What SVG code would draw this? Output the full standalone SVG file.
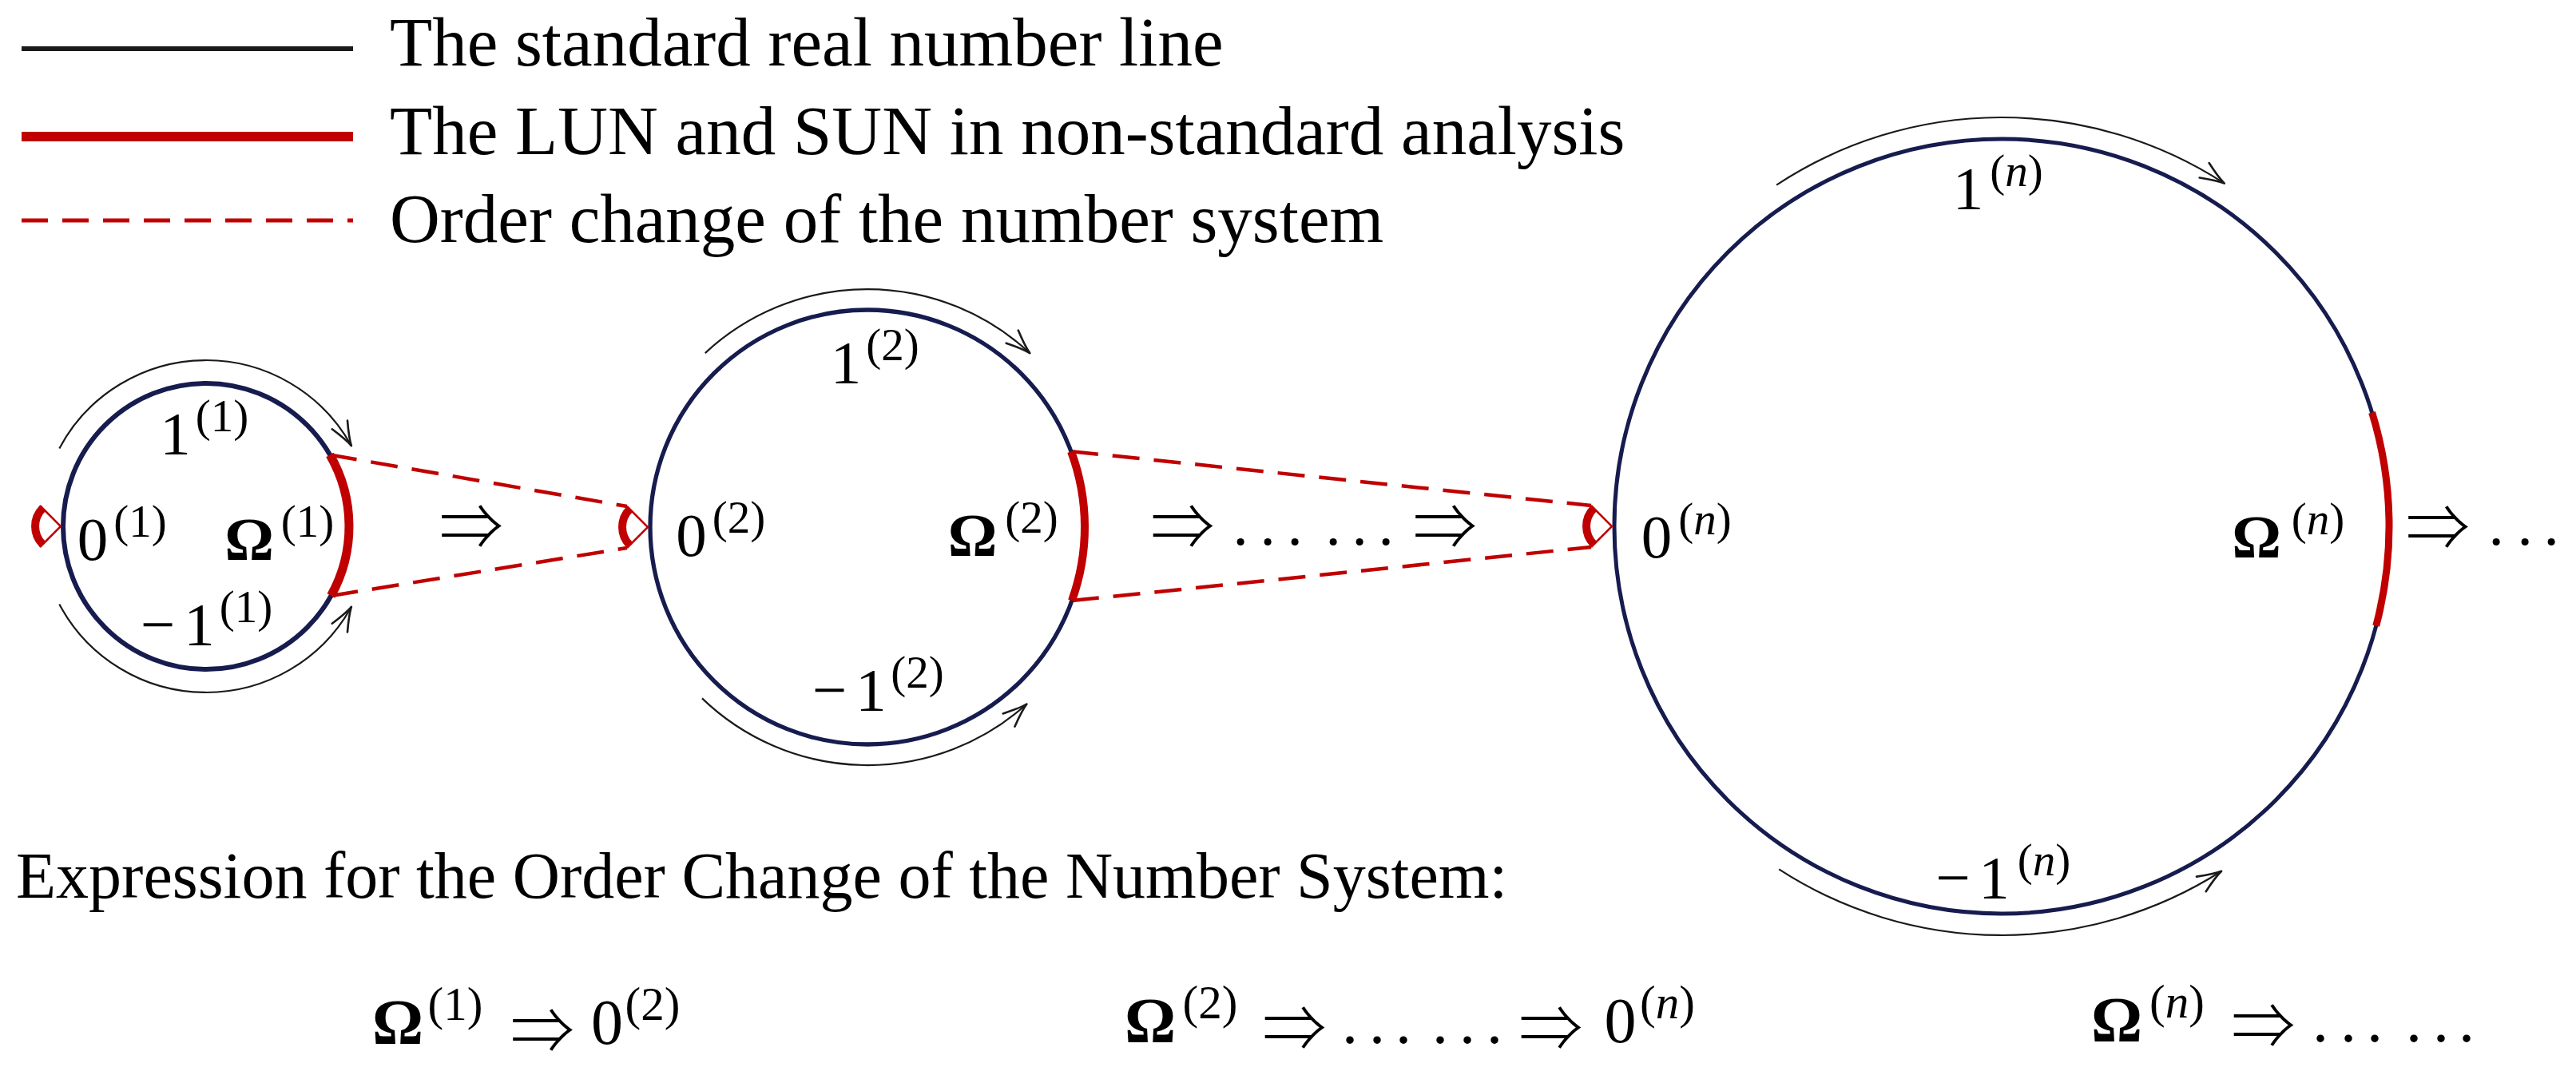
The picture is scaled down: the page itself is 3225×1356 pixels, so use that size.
<svg xmlns="http://www.w3.org/2000/svg" width="3225" height="1356" viewBox="0 0 3225 1356">
<style>
text{font-family:'Liberation Serif','DejaVu Serif',serif;fill:#000}
.lg{font-size:87px}
.hd{font-size:82px}
.m{font-size:77px;text-anchor:middle}
.mb{font-size:80px;text-anchor:middle}
.s{font-size:57px;text-anchor:middle}
.sb{font-size:59px;text-anchor:middle}
.dt{font-size:77px}
.b{font-weight:bold}
.i{font-style:italic}
.ar{font-family:'Noto Sans CJK JP','DejaVu Sans',sans-serif;font-weight:300;font-size:80px;text-anchor:middle}
.circ{fill:none;stroke:#161c4e}
.red{fill:none;stroke:#c00000}
.dash{fill:none;stroke:#c00000;stroke-width:4.5;stroke-dasharray:34 18}
.flow{fill:none;stroke:#1a1a1a;stroke-width:2.2;marker-end:url(#to)}
</style>
<defs>
<marker id="to" markerUnits="userSpaceOnUse" markerWidth="40" markerHeight="30" refX="0" refY="0" orient="auto" overflow="visible">
<path d="M -30 -11 Q -10 -2 0 0 Q -10 2 -30 11" fill="none" stroke="#1a1a1a" stroke-width="2.6" stroke-linecap="round" stroke-linejoin="round"/>
</marker>
<g id="bracket">
<path d="M -22.6 -22.6 A 32 32 0 0 0 -22.6 22.6" fill="none" stroke="#c00000" stroke-width="10"/>
<path d="M -26 -26 L 0 0 L -26 26" fill="none" stroke="#c00000" stroke-width="2.5" stroke-linejoin="miter"/>
</g>
</defs>
<rect x="0" y="0" width="3225" height="1356" fill="#fff"/>

<g id="legend">
<line x1="27" y1="61" x2="442" y2="61" stroke="#1a1a1a" stroke-width="6"/>
<text class="lg" x="488" y="82">The standard real number line</text>
<line x1="27" y1="171" x2="442" y2="171" stroke="#c00000" stroke-width="12"/>
<text class="lg" x="488" y="193">The LUN and SUN in non-standard analysis</text>
<line class="dash" x1="27" y1="276" x2="442" y2="276" style="stroke-width:5;stroke-dasharray:33 18"/>
<text class="lg" x="488" y="303">Order change of the number system</text>
</g>

<g id="connectors">
<path class="dash" d="M 413 569.5 L 785 634"/>
<path class="dash" d="M 414.4 746 L 785 686"/>
<path class="dash" d="M 1341 565.2 L 1992 633"/>
<path class="dash" d="M 1341.9 752.1 L 1992 685"/>
<path class="flow" d="M 74.3 561.4 A 208 208 0 0 1 439.9 558.2"/>
<path class="flow" d="M 74.3 756.6 A 208 208 0 0 0 439.9 759.8"/>
<path class="flow" d="M 882.8 442.1 A 298 298 0 0 1 1289.2 442.1"/>
<path class="flow" d="M 879 874.4 A 298 298 0 0 0 1285.4 881.5"/>
<path class="flow" d="M 2224.1 231.6 A 512 512 0 0 1 2784.8 229.6"/>
<path class="flow" d="M 2227.2 1088.4 A 512 512 0 0 0 2781.1 1090.8"/>
</g>

<g id="circle1">
<circle class="circ" cx="258" cy="659" r="179" stroke-width="6"/>
<path class="red" stroke-width="11" d="M 413 569.5 A 179 179 0 0 1 414.4 746"/>
<use href="#bracket" x="76" y="659"/>
<text class="m" x="219.5" y="569">1</text>
<text class="s" x="278" y="540">(1)</text>
<text class="m" x="116" y="701">0</text>
<text class="s" x="175.5" y="672">(1)</text>
<text class="m b" x="312" y="701">Ω</text>
<text class="s" x="385" y="672">(1)</text>
<text class="m" x="197.5" y="808">−</text>
<text class="m" x="249.5" y="808">1</text>
<text class="s" x="308" y="779">(1)</text>
</g>

<g id="circle2">
<circle class="circ" cx="1086" cy="660" r="272" stroke-width="5.3"/>
<path class="red" stroke-width="10" d="M 1341 565.2 A 272 272 0 0 1 1341.9 752.1"/>
<use href="#bracket" x="811" y="660"/>
<text class="m" x="1059" y="480">1</text>
<text class="s" x="1117.5" y="451">(2)</text>
<text class="m" x="865.5" y="696">0</text>
<text class="s" x="925" y="667">(2)</text>
<text class="m b" x="1217.5" y="696">Ω</text>
<text class="s" x="1291.5" y="667">(2)</text>
<text class="m" x="1038.5" y="890">−</text>
<text class="m" x="1090.5" y="890">1</text>
<text class="s" x="1148.5" y="861">(2)</text>
</g>

<g id="circle3">
<circle class="circ" cx="2506" cy="659" r="485" stroke-width="5"/>
<path class="red" stroke-width="9" d="M 2969.6 516.4 A 485 485 0 0 1 2974.7 783.7"/>
<use href="#bracket" x="2018" y="659"/>
<text class="m" x="2464" y="262">1</text>
<text class="s" x="2524.5" y="233">(<tspan class="i">n</tspan>)</text>
<text class="m" x="2074" y="698">0</text>
<text class="s" x="2134.5" y="669">(<tspan class="i">n</tspan>)</text>
<text class="m b" x="2825" y="698">Ω</text>
<text class="s" x="2902" y="669">(<tspan class="i">n</tspan>)</text>
<text class="m" x="2445" y="1125">−</text>
<text class="m" x="2496.5" y="1125">1</text>
<text class="s" x="2559" y="1096">(<tspan class="i">n</tspan>)</text>
</g>

<g id="transitions">
<text class="ar" x="590" y="688">⇒</text>
<text class="ar" x="1480.5" y="688">⇒</text>
<text class="dt" x="1543.4 1577.4 1611.4 1659.4 1692.4 1725.4" y="682">......</text>
<text class="ar" x="1809" y="688">⇒</text>
<text class="ar" x="3052" y="689">⇒</text>
<text class="dt" x="3115.4 3151.4 3184.4" y="682">...</text>
</g>

<g id="expression">
<text class="hd" x="20" y="1124">Expression for the Order Change of the Number System:</text>
<text class="mb b" x="498" y="1307">Ω</text>
<text class="sb" x="570" y="1277">(1)</text>
<text class="ar" x="679" y="1319">⇒</text>
<text class="mb" x="760" y="1307">0</text>
<text class="sb" x="817" y="1277">(2)</text>

<text class="mb b" x="1440" y="1305">Ω</text>
<text class="sb" x="1515" y="1275">(2)</text>
<text class="ar" x="1620.5" y="1316">⇒</text>
<text class="mb" x="1680 1714 1747 1793 1827 1861" y="1306" style="text-anchor:start">......</text>
<text class="ar" x="1941.5" y="1316">⇒</text>
<text class="mb" x="2028.5" y="1305">0</text>
<text class="sb" x="2087.5" y="1275">(<tspan class="i">n</tspan>)</text>

<text class="mb b" x="2650" y="1304">Ω</text>
<text class="sb" x="2725.5" y="1274">(<tspan class="i">n</tspan>)</text>
<text class="ar" x="2833.5" y="1313">⇒</text>
<text class="mb" x="2895 2930 2963 3012 3046 3078" y="1304" style="text-anchor:start">......</text>
</g>
</svg>
